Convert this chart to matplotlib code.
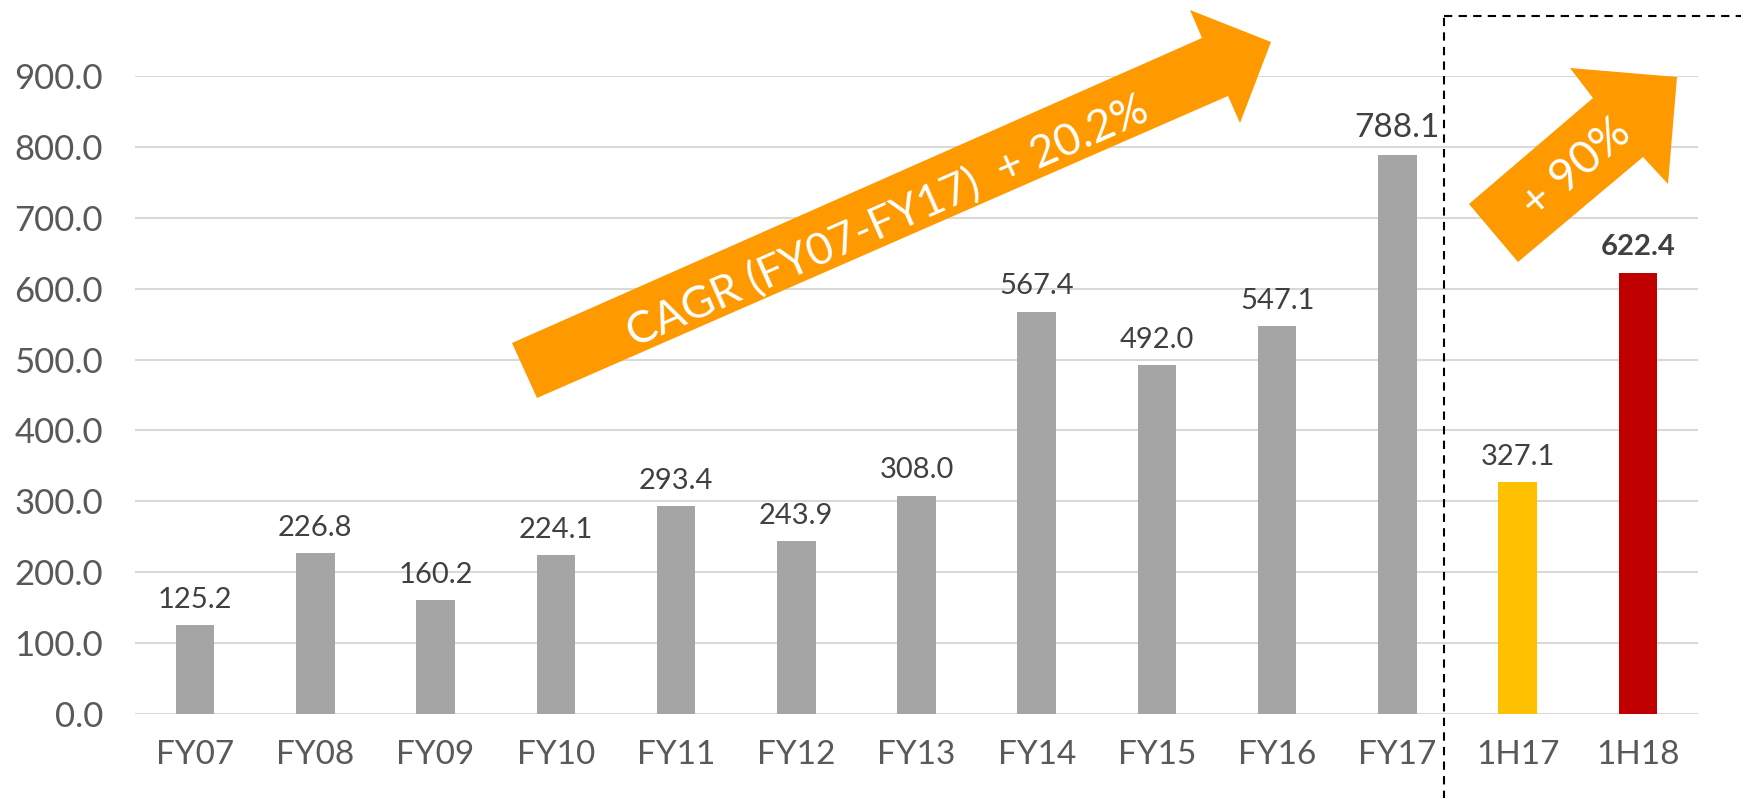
import matplotlib
matplotlib.use("Agg")
from matplotlib import pyplot as plt
from matplotlib.patches import Polygon
import numpy as np

# chart data
categories = ["FY07", "FY08", "FY09", "FY10", "FY11", "FY12", "FY13",
              "FY14", "FY15", "FY16", "FY17", "1H17", "1H18"]
values = [125.2, 226.8, 160.2, 224.1, 293.4, 243.9, 308.0,
          567.4, 492.0, 547.1, 788.1, 327.1, 622.4]
bar_colors = ["#A5A5A5"] * 11 + ["#FFC000", "#C00000"]
yticks = [0, 100, 200, 300, 400, 500, 600, 700, 800, 900]
cagr_text = "CAGR (FY07-FY17)  + 20.2%"
half_text = "+ 90%"

plt.rcParams['font.family'] = ['Lato', 'DejaVu Sans']

W, H = 1741, 798
fig = plt.figure(figsize=(W / 100, H / 100), dpi=100)
ax = fig.add_axes([135 / W, 1 - 714 / H, (1698 - 135) / W, (714 - 76) / H])

x = np.arange(len(categories))
ax.bar(x, values, width=0.32, color=bar_colors, zorder=3)

ax.set_xlim(-0.5, len(categories) - 0.5)
ax.set_ylim(0, 900)
ax.set_yticks(yticks)
ax.set_yticklabels(["%.1f" % v for v in yticks], fontsize=25, color="#595959")
ax.set_xticks(x)
ax.set_xticklabels(categories, fontsize=24, color="#595959")
ax.tick_params(axis="y", length=0, pad=23)
ax.tick_params(axis="x", length=0, pad=19)
ax.grid(axis="y", color="#D9D9D9", linewidth=1.5, zorder=0)
for s in ax.spines.values():
    s.set_visible(False)

# value labels
for i, v in enumerate(values):
    size = 21
    weight = "normal"
    if categories[i] == "FY17":
        size = 24
    if categories[i] == "1H18":
        weight = "bold"
    ax.annotate("%.1f" % v, (x[i], v), xytext=(0, 9), textcoords="offset points",
                ha="center", va="bottom", fontsize=size, fontweight=weight,
                color="#404040", zorder=4)

# overlay in pixel coordinates for the arrows and dashed box
ov = fig.add_axes([0, 0, 1, 1], facecolor="none")
ov.set_xlim(0, W)
ov.set_ylim(H, 0)
ov.axis("off")

orange = "#FF9900"
big_arrow = [(512, 343), (1202, 38), (1190, 10), (1271, 42),
             (1240, 123), (1228, 96), (537, 398)]
ov.add_patch(Polygon(big_arrow, closed=True, color=orange, lw=0, zorder=5))
ov.text(888, 222, cagr_text, rotation=23.8, rotation_mode="anchor",
        ha="center", va="center", fontsize=32, color="white", zorder=6)

small_arrow = [(1469, 204), (1593, 98), (1570, 68), (1677, 77),
               (1668, 184), (1643, 157), (1518, 262)]
ov.add_patch(Polygon(small_arrow, closed=True, color=orange, lw=0, zorder=5))
ov.text(1576, 168, half_text, rotation=40.5, rotation_mode="anchor",
        ha="center", va="center", fontsize=33, color="white", zorder=6)

# dashed box around the half-year comparison
ov.plot([1444, 1444], [H + 5, 16], color="black", lw=1.5, ls=(0, (4, 3)))
ov.plot([1444, W + 5], [16, 16], color="black", lw=1.5, ls=(0, (4, 3)))

fig.savefig("out.png", dpi=100)
